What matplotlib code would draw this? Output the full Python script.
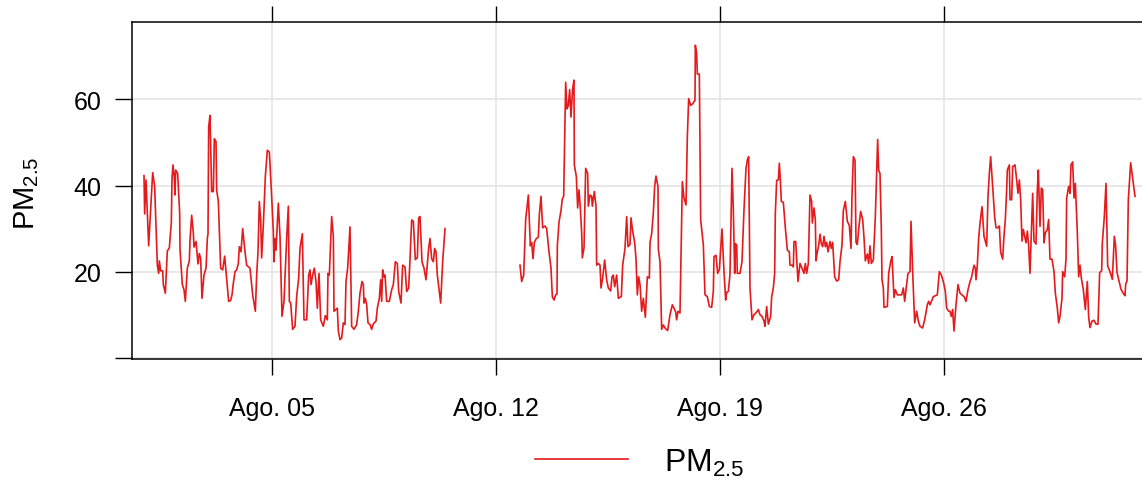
import numpy as np
import pandas as pd
import matplotlib
matplotlib.use("Agg")
import matplotlib.pyplot as plt

plt.rcParams['font.family'] = ['Liberation Sans', 'DejaVu Sans']
plt.rcParams['mathtext.fontset'] = 'custom'
plt.rcParams['mathtext.rm'] = 'Liberation Sans'
plt.rcParams['mathtext.it'] = 'Liberation Sans:italic'
plt.rcParams['mathtext.bf'] = 'Liberation Sans:bold'
plt.rcParams['mathtext.default'] = 'regular'

# ---- data: hourly PM2.5, hours counted from Aug 01 00:00 ----
hours_wk1 = [0, 0.5, 1.5, 3.5, 6.5, 8, 10, 11, 11.5, 12.5, 14, 14.5, 16, 17.5, 19, 20.5, 21, 21.75, 22.75, 23.25,
             23.75, 25.25, 26.75, 27, 28.75, 30, 31, 32.5, 34, 34.5, 35.75, 37, 37.5, 39, 40.5, 41.5, 42.5, 43.5,
             45, 46.5, 47.5, 48, 48.5, 49.5, 50.75, 52, 52.75, 54, 54.5, 55.75, 57.5, 59, 60.5, 61.5, 63.5,
             65, 66, 67, 68.25, 69.5, 70.75, 71.5, 72.75, 74, 75.75, 77, 79.5, 81.5, 83.5, 84.5, 85.5, 86.5,
             87.5, 88.25, 89.5, 91, 92.5, 94, 95.5, 97, 97.5, 98.25, 99, 100.75, 102, 103.5, 105, 107, 108.25,
             109, 110, 111.5, 113.25, 114.5, 116, 117, 118.75, 120, 122, 123.5, 124.5, 125.25, 126.5, 127.75,
             129, 130, 131.25, 132.5, 134.5, 136, 137.5, 138, 139]
pm_wk1 = [42.3, 33.4, 41.3, 26, 43, 39.8, 21.5, 19.6, 22.5, 20.2, 20.2, 17, 15, 24.8, 25.5, 31.5, 41.7, 44.8, 41.7, 37.8,
          43.6, 42.8, 33.6, 25.2, 17, 15.8, 13.1, 20.8, 22.5, 27.3, 33.1, 29, 25.7, 27, 21.8, 24.2, 23, 13.8,
          19.2, 20.8, 27.7, 28.8, 53.6, 56.3, 38.6, 38.6, 50.9, 50.2, 39, 36.3, 20.8, 20.4, 23.6, 20, 13.1,
          13.3, 14.6, 17.3, 20, 20.4, 21.9, 25.8, 24.6, 30, 24.6, 21.5, 20.8, 14.6, 10.8, 19.2, 24.6, 36.3,
          32, 23.2, 30.8, 42.1, 48.2, 47.8, 39, 29.4, 22.3, 27.7, 25, 35.9, 28.2, 9.6, 13.1, 27.7, 35.2,
          13.1, 12.7, 6.6, 7.3, 14.2, 18.5, 25.4, 28.8, 8.8, 8.8, 19.2, 20.4, 17, 19.2, 20.8,
          17.7, 11.5, 19.6, 8.8, 7.3, 9.8, 8.8, 19.6, 19.2]

hours_wk2 = [140.75, 142, 142.5, 145, 145.75, 147, 148.25, 149.5, 150.75, 151.5, 152.75, 154.5, 155.75, 157.5,
             159.5, 160.75, 162, 163.5, 164.5, 165, 166, 167, 168, 169.5, 170.75, 172, 174, 175, 176.5, 177.5,
             178.25, 179, 180, 180.75, 182, 184, 185.75, 187, 188.5, 190, 191, 192.75, 194, 195.75, 197, 198.5,
             199.5, 200.75, 202, 203.5, 205, 206, 207, 208.5, 210, 211.5, 213.5, 214.5, 215.75, 217, 218, 219,
             220, 222.5, 224, 225.75, 250,
             282, 283.25, 284.75, 286.25, 288.25, 289.75, 290.75, 291.75, 292.75, 294.25, 295.75, 296.5, 297.75,
             299, 300.75, 302, 303.75, 305.25, 306.25, 307.5, 308.75, 309.75, 310, 311.25, 312.75, 313.75,
             314.75, 316.25, 317.25, 318.25, 319.25, 320.25, 321.5, 322.5, 322.75, 324.25, 325.25, 326.25,
             327.25, 328.25, 328.75, 330, 331.25, 332.75, 333.25, 334.5, 335.75, 336.25, 337.75, 339, 339.5,
             340.75, 342]
pm_wk2 = [32.8, 28.2, 10.8, 11.5, 6.2, 4.2, 4.6, 8.1, 7.7, 17.7, 20.8, 30.4, 7.3, 6.6,
          7.7, 10.8, 15, 17.7, 17, 12.7, 13.8, 12.3, 8.1, 7.7, 6.6, 7.9, 8.5, 11.5, 13.8, 18.1,
          13.1, 20.4, 18.8, 19.2, 13.1, 13.1, 15.8, 17, 22.3, 21.9, 15.4, 12.7, 21.5, 21.1, 15.4, 16.2,
          22.8, 32, 31.7, 22.8, 23.2, 32.5, 32.8, 22.3, 20.8, 18.1, 25.4, 27.7, 23, 22.3, 25.4, 24.6,
          19.2, 12.7, 22.3, 30, np.nan,
          21.5, 17.7, 19.2, 32.1, 37.8, 26, 26.8, 23, 26.8, 27.7, 28, 33.2, 37.5,
          30.2, 30.6, 30, 24.6, 20.8, 14.2, 13.4, 14.6, 14.8, 26, 31.5, 34.2, 36.9,
          37.5, 64, 57.8, 58.6, 62.3, 55.9, 62.5, 64.5, 44.8, 42.1, 34.8, 39,
          34.8, 29, 23.2, 25.5, 44, 42.8, 35.2, 37.8, 37.5, 35.2, 38.6, 35.2, 21.5,
          21.9, 21.5]

hours_wk3 = [342.75, 344, 345.5, 347, 348.25, 350, 351, 352, 353, 354.5, 355.75, 358, 359, 360.75, 362, 363,
             364.5, 365.25, 366.5, 368, 369, 370, 371, 372, 373.25, 374.5, 376, 377.5, 379, 379.5, 380.75, 382,
             383, 384, 385.5, 385.75, 387, 388.25, 389.5, 391, 392.75, 394.5, 396.25, 397.5, 398.75, 399.5,
             400.5, 402, 403.75, 405, 406.5, 407.5, 408.5, 410, 411.5, 413.25, 413.5, 414.5, 415, 416.5,
             417.5, 419.5, 420.75, 422.5, 424, 425.75, 427, 427.5, 429, 430.25, 431.5, 433.5, 435, 436.25, 437,
             438.25, 439.5, 441, 442, 443, 443.5, 444.5, 445, 447, 448.5, 450, 451.5, 452.5, 453.5, 454.5, 456,
             457.5, 459, 460.75, 462, 463.5, 465, 465.75, 467, 468.25, 470, 470.75, 472, 473, 473.5, 474.5,
             475.75, 476.5, 477.25, 478, 479.5, 481, 482.5, 484, 484.5, 486, 487, 487.5, 488.75, 490.5]
pm_wk3 = [16.2, 18.5, 22.7, 18.1, 16.2, 15.5, 18.8, 19.2, 16.5, 19.2, 13.8, 14.2, 21.5, 25.4, 32.8, 25.8,
          26.3, 32.5, 29.4, 26.8, 23, 14.6, 18.8, 17, 10.8, 13.8, 9.4, 18.8, 18.5, 26.8, 28.8, 33.7,
          39.8, 42.2, 39.8, 25.2, 22.3, 6.6, 7.6, 6.8, 6.3, 10, 12.3, 11.5, 10.6, 8.8,
          10.8, 10.4, 40.9, 37.1, 35.5, 51.3, 60.2, 58.6, 59, 59.8, 72.6, 70.5, 65.9, 65.9,
          32.1, 26.2, 14.6, 14.2, 11.9, 11.7, 15.4, 23.5, 23.8, 19.6, 20.4, 29.9, 20, 13.4, 15.2,
          15.4, 19.4, 44, 34.4, 19.6, 26.5, 26.2, 19.6, 19.6, 22.3, 34.4, 44, 45.9, 46.7, 16.2, 8.8,
          10, 10.4, 11.2, 10, 9.6, 8.5, 7.3, 11.9, 7.8, 9.6, 14.2, 16.2, 19.6, 33.6, 41.2,
          41.3, 45.2, 41.3, 36.3, 36.1, 30.2, 25, 24.6, 21.5, 21.5, 21.1, 27, 27, 17.7]

hours_wk4 = [492, 493.5, 495, 496, 497, 498.25, 499.5, 500.75, 501.25, 502.5, 503.5, 504, 505, 506, 507, 508,
             509, 510, 511, 512, 513, 514.5, 515.5, 516.5, 518, 519.5, 521, 522, 523.5, 524.5, 526, 527.5, 529,
             530.25, 531, 532, 533.25, 534, 535, 536, 537.5, 539, 540, 541, 542.5, 543.5, 544.5, 545.5, 547,
             548.5, 550.25, 551, 552, 553, 553.5, 554.5, 555, 557.5, 558.5, 560, 561, 562.5, 563.5, 565, 566.5,
             568.25, 569.5, 570.5, 571.5, 573, 574.5, 575.25, 576.5, 578, 579.5, 580.75, 582, 584, 585.75,
             587.5, 588.5, 589.5, 591, 592, 593.5, 595, 596.5, 598, 599.5, 601, 602, 603.5, 604.5, 605.5,
             606.5, 607.5, 609, 610.5, 612, 613.5, 615, 616.5, 618, 619.5, 620.5, 621.5, 622.5, 623.5, 624,
             625, 626, 627, 628.5, 630, 632, 633, 634, 635, 636.5, 638, 639, 640.5, 641.5]
pm_wk4 = [21.9, 20.8, 19.6, 21.9, 19.6, 21.9, 37.8, 36.3, 31.3, 34.8, 32.1, 22.5, 24.6, 26, 28.7, 26.5,
          25.8, 28.2, 25.8, 26.8, 24.6, 27, 25.4, 26.8, 18.8, 17.8, 18.1, 22.3, 26.2, 34.2, 36.3, 31.7, 30.7,
          25.4, 37.8, 46.7, 45.9, 26.8, 26.3, 29.8, 34, 32.1, 27.9, 22.5, 24.1, 21.9, 26, 21.9, 22.7,
          32.8, 50.7, 43.6, 42.8, 29.7, 18.1, 16.2, 11.7, 11.9, 19.6, 22.3, 23.5, 14, 15.8, 14.6, 14.6,
          14.6, 16.2, 13.1, 15.8, 19.6, 20, 31.7, 20, 8.1, 10.8, 8.5, 7.3, 6.9, 9.2,
          12.3, 13.1, 12.3, 13.4, 14.2, 14.4, 14.6, 20, 19.2, 17.7, 15.4, 11.5, 10.8, 10.8, 9.6,
          11.2, 6.2, 12.3, 17, 15, 14.6, 14.2, 13.1, 15.8, 17.7, 18.5, 20, 21.5, 20.8, 18.1,
          21.5, 27.7, 31.2, 35.1, 28.2, 25.9, 37.5, 42.8, 46.7, 39.8, 32.8, 30.2, 30.2, 30.6]

hours_wk5 = [642.5, 644, 645, 646, 647, 647.5, 649, 649.5, 650.75, 651.5, 653.25, 654.5, 655.5, 656.5, 657.5,
             658.5, 659.5, 660.5, 661.5, 662.5, 663.5, 664.5, 665.5, 666.5, 667.5, 669, 670, 670.75, 672, 673,
             674, 675, 676, 677.5, 678.5, 679.5, 681, 682.5, 683.5, 685, 686, 687, 688.5, 689, 690.5, 691.5,
             692, 693.5, 694.5, 695.25, 696.5, 697.5, 698.5, 700, 701, 702, 703, 704.5, 706, 707.5, 708.5,
             709.5, 711, 712.5, 714, 715.5, 716.75, 718.25, 718.75, 720.25, 721.5, 722.75, 724.25, 726.25,
             727.75, 728.75, 729.75, 731.25, 732.75, 734.75, 735.75, 736.25, 737.25, 738.25, 740, 743.25]
pm_wk5 = [24.5, 22.9, 28.3, 32.1, 39, 43.6, 44.8, 36.7, 36.7, 44.4, 44.8, 41.3, 38.2, 41.3, 36.7,
          27.1, 29.8, 28.2, 26.7, 29.4, 26, 19.6, 29, 38.2, 27.1, 26.4, 39, 43.6, 30.5, 39.4,
          39, 26.7, 29, 29.8, 32.1, 22.9, 22.9, 20, 15, 11.5, 8.1, 9.6, 13.8, 20, 18.8, 22.9,
          37.1, 39.8, 38.2, 44.8, 45.5, 37.1, 40.5, 29, 18.8, 21.5, 18.5, 15.8, 11.2, 17.7, 9.4,
          7, 8.5, 8.7, 7.8, 7.8, 19.8, 20.2, 26.7, 32.8, 40.5, 21.3, 20.2, 18.2,
          28.2, 25.9, 19.8, 17.8, 15.9, 14.8, 14.4, 17.1, 17.8, 36.7, 45.3, 37.5]

tick_days = ['2015-08-05', '2015-08-12', '2015-08-19', '2015-08-26']
tick_labels = ['Ago. 05', 'Ago. 12', 'Ago. 19', 'Ago. 26']
y_ticks = [0, 20, 40, 60]
y_tick_labels = ['', '20', '40', '60']

# ---- build series ----
start = pd.Timestamp('2015-08-01 00:00')
hours = np.array(hours_wk1 + hours_wk2 + hours_wk3 + hours_wk4 + hours_wk5, dtype=float)
pm25 = np.array(pm_wk1 + pm_wk2 + pm_wk3 + pm_wk4 + pm_wk5, dtype=float)
times = start + pd.to_timedelta(hours, unit='h')

W, H = 1142, 481
fig = plt.figure(figsize=(W / 100, H / 100), dpi=100)
ax = fig.add_axes([132 / W, 121 / H, (1144 - 132) / W, 337 / H])

line, = ax.plot(times, pm25, color='#e41a1c', lw=1.2, label='PM$_{2.5}$')

ax.set_xlim(start - pd.Timedelta(hours=9), start + pd.Timedelta(hours=750))
ax.set_ylim(-0.3, 78)

ax.set_xticks(pd.to_datetime(tick_days))
ax.set_xticklabels(tick_labels)
ax.set_yticks(y_ticks)
ax.set_yticklabels(y_tick_labels)

for s in ax.spines.values():
    s.set_linewidth(1.1)
    s.set_color('black')

ax.tick_params(axis='x', direction='out', length=11.5, width=1.0, top=True, bottom=True,
               labeltop=False, labelsize=18, pad=15, colors='black')
ax.tick_params(axis='y', direction='out', length=12, width=1.0, left=True, right=False,
               labelsize=18, pad=10, colors='black')

ax.grid(True, color='#e6e6e6', linewidth=1.3)
ax.set_axisbelow(True)

fig.text(27 / W, 1 - 193 / H, 'PM$_{2.5}$', rotation=90, ha='center', va='center', fontsize=21)

fig.legend(handles=[line], loc='center', bbox_to_anchor=(640 / W, 1 - 463 / H), frameon=False,
           fontsize=23, handlelength=2.9, handletextpad=1.15)

fig.savefig('out.png', dpi=100)
